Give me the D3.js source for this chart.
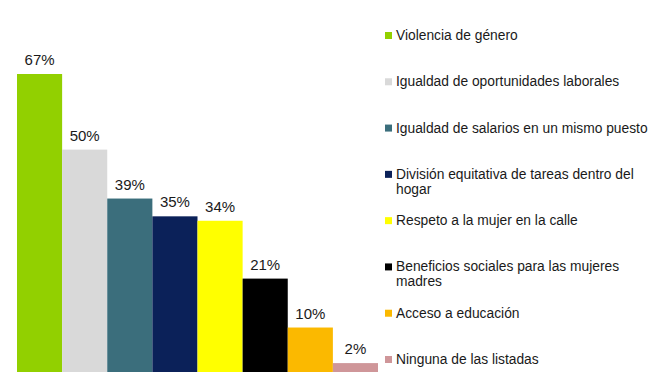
<!DOCTYPE html>
<html>
<head>
<meta charset="utf-8">
<script src="https://cdn.jsdelivr.net/npm/d3@7"></script>
<style>
  body { margin: 0; background: #fff; }
  svg { display: block; font-family: "Liberation Sans", Arial, sans-serif; }
  .val { font-size: 15px; fill: #1a1a1a; }
  .leg { font-size: 13.8px; fill: #1a1a1a; }
</style>
</head>
<body>
<svg id="chart"></svg>
<script>
var categories = [
  "Violencia de género",
  "Igualdad de oportunidades laborales",
  "Igualdad de salarios en un mismo puesto",
  "División equitativa de tareas dentro del hogar",
  "Respeto a la mujer en la calle",
  "Beneficios sociales para las mujeres madres",
  "Acceso a educación",
  "Ninguna de las listadas"
];
var values = [67, 50, 39, 35, 34, 21, 10, 2];
var colors = ["#92d000", "#d9d9d9", "#3b6e7c", "#0b2159", "#ffff00", "#000000", "#fbb900", "#cf9699"];
// legend lines (wrapped as in the picture)
var legendLines = [
  ["Violencia de género"],
  ["Igualdad de oportunidades laborales"],
  ["Igualdad de salarios en un mismo puesto"],
  ["División equitativa de tareas dentro del", "hogar"],
  ["Respeto a la mujer en la calle"],
  ["Beneficios sociales para las mujeres", "madres"],
  ["Acceso a educación"],
  ["Ninguna de las listadas"]
];

var W = 657, H = 386,
  svg = d3.select("#chart").attr("width", W).attr("height", H);

var x = d3.scaleBand().domain(categories).range([17, 378]).padding(0),
  y = d3.scaleLinear().domain([0, 67]).range([372, 74]);

var g = svg.append("g");
g.selectAll("rect.bar")
  .data(values)
  .enter().append("rect")
    .attr("class", "bar")
    .attr("x", function(d, i) { return x(categories[i]); })
    .attr("y", function(d) { return y(d); })
    .attr("width", x.bandwidth())
    .attr("height", function(d) { return y(0) - y(d); })
    .attr("fill", function(d, i) { return colors[i]; });

g.selectAll("text.val")
  .data(values)
  .enter().append("text")
    .attr("class", "val")
    .attr("x", function(d, i) { return x(categories[i]) + x.bandwidth() / 2; })
    .attr("y", function(d) { return y(d) - 9; })
    .attr("text-anchor", "middle")
    .text(function(d) { return d + "%"; });

// legend
var ly = d3.scaleLinear().domain([0, 7]).range([40, 364]);
var leg = svg.append("g").selectAll("g")
  .data(categories)
  .enter().append("g")
    .attr("transform", function(d, i) { return "translate(385," + ly(i) + ")"; });

leg.append("rect")
  .attr("x", 0).attr("y", -8)
  .attr("width", 7).attr("height", 7)
  .attr("fill", function(d, i) { return colors[i]; });

leg.append("text")
  .attr("class", "leg")
  .each(function(d, i) {
    var t = d3.select(this);
    legendLines[i].forEach(function(line, j) {
      t.append("tspan").attr("x", 11).attr("y", j * 15).text(line);
    });
  });
</script>
</body>
</html>
